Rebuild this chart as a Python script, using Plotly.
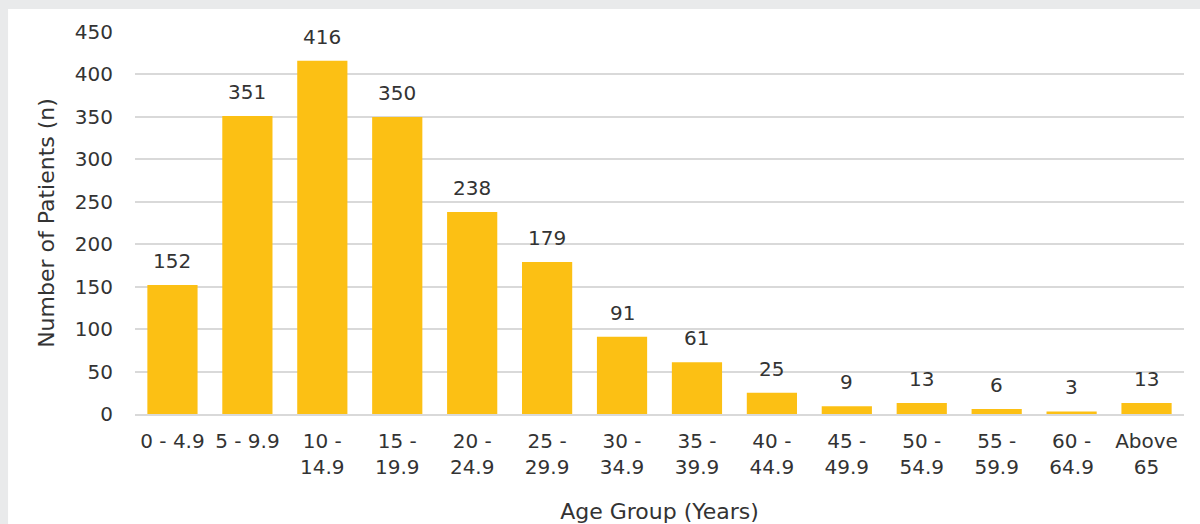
import plotly.graph_objects as go

categories = ["0 - 4.9", "5 - 9.9", "10 -<br>14.9", "15 -<br>19.9", "20 -<br>24.9", "25 -<br>29.9",
              "30 -<br>34.9", "35 -<br>39.9", "40 -<br>44.9", "45 -<br>49.9", "50 -<br>54.9",
              "55 -<br>59.9", "60 -<br>64.9", "Above<br>65"]
patients = [152, 351, 416, 350, 238, 179, 91, 61, 25, 9, 13, 6, 3, 13]
y_ticks = [0, 50, 100, 150, 200, 250, 300, 350, 400, 450]

FONT = "DejaVu Sans, Arial, sans-serif"
TXT = "#333333"
BAR = "#FCC014"
FS = 20
TS = 22

fig = go.Figure(go.Bar(x=categories, y=patients, marker=dict(color=BAR, line=dict(width=0))))

for c, v in zip(categories, patients):
    fig.add_annotation(x=c, y=v, text=str(v), showarrow=False, yanchor="bottom", yshift=10,
                       font=dict(family=FONT, size=FS, color=TXT))

fig.add_shape(type="rect", xref="paper", yref="paper", x0=-0.121, x1=1.2, y0=-0.4, y1=1.060,
              fillcolor="white", line=dict(width=0), layer="below")

fig.update_layout(
    width=1200, height=524,
    margin=dict(l=135, r=16, t=32, b=110),
    paper_bgcolor="#e9eaeb", plot_bgcolor="white",
    bargap=0.33, showlegend=False,
    font=dict(family=FONT, size=FS, color=TXT),
    xaxis=dict(title=dict(text="Age Group (Years)", standoff=30, font=dict(size=TS)),
               automargin=False,
               ticks="outside", ticklen=8, tickcolor="rgba(0,0,0,0)",
               showline=True, linecolor="#d9d9d9", linewidth=2, tickfont=dict(size=FS)),
    yaxis=dict(title=dict(text="Number of Patients (n)", standoff=14, font=dict(size=TS)),
               automargin=False,
               range=[0, 450], tickvals=y_ticks, ticks="outside", ticklen=17,
               tickcolor="rgba(0,0,0,0)", gridcolor="#d9d9d9", gridwidth=2,
               zeroline=False, tickfont=dict(size=FS)),
)

fig.write_html("out.html", config={"displayModeBar": False},
               post_script="document.body.style.margin='0';document.body.style.overflow='hidden';")
